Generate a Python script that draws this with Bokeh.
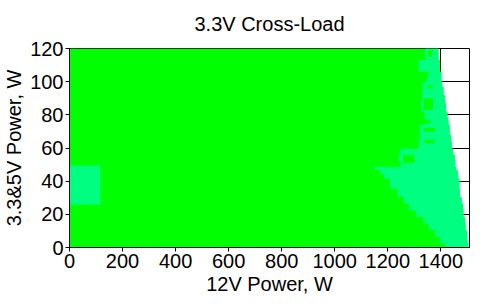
from bokeh.plotting import figure
from bokeh.models import Range1d, FixedTicker, Title
from bokeh.embed import file_html
from bokeh.resources import INLINE

# ---- data (3.3&5V load rows, 12V power limits) ----
row_lo = [0, 2.5, 6.5, 10.5, 14.5, 18.5, 22.5, 26.5, 30.5, 35.5, 41.5, 44.5,
          46.8, 48.6, 52, 56, 59.5, 64, 68, 74, 78, 82, 87, 92, 97, 100, 106, 113]
row_hi = row_lo[1:] + [120]
max_12v = [1503, 1500, 1498, 1493, 1490, 1485, 1483, 1478, 1472, 1470, 1465, 1463,
           1458, 1454, 1452, 1446, 1441, 1438, 1433, 1428, 1424, 1419, 1415, 1410,
           1404, 1402, 1397, 1391]
dev_from = [1415, 1398, 1378, 1355, 1333, 1305, 1280, 1260, 1237, 1207, 1185, 1170,
            1150, 1248, 1242, 1245, 1316, 1318, 1320, 1340, 1338, 1325, 1328, 1330,
            1332, 1345, 1316, 1341]

# small block of higher deviation at low 12V load
blk_x = [0, 116]
blk_y = [26, 49.5]

# green islands inside the higher-deviation band
isl_x0 = [1352, 1340, 1350, 1335, 1330, 1335, 1335, 1258]
isl_x1 = [1368, 1352, 1368, 1370, 1360, 1378, 1378, 1300]
isl_y0 = [115, 102, 96, 83, 75, 70, 63, 51]
isl_y1 = [119, 106, 98, 90, 77, 72, 65, 56]

x_ticks = [0, 200, 400, 600, 800, 1000, 1200, 1400]
y_ticks = [0, 20, 40, 60, 80, 100, 120]

TITLE = "3.3V Cross-Load"
GREEN = "#00FF00"
LIGHT = "#00FF80"
FONT = "Liberation Sans"

p = figure(width=503, height=306, output_backend="svg", toolbar_location=None,
           x_range=Range1d(0, 1508), y_range=Range1d(0, 120),
           min_border_left=69, min_border_right=34, min_border_top=48,
           min_border_bottom=59)

p.background_fill_color = "white"
p.border_fill_color = "white"
p.outline_line_color = "black"
p.outline_line_alpha = 1.0

# green (within spec) region, as a staircase polygon
gx = [0]
gy = [0]
for lo, hi, mx in zip(row_lo, row_hi, max_12v):
    gx += [mx, mx]
    gy += [lo, hi]
gx += [0]
gy += [120]
p.patch(gx, gy, fill_color=GREEN, line_color=None)

# light green (higher deviation) band
lx = []
ly = []
for lo, hi, st in zip(row_lo, row_hi, dev_from):
    lx += [st, st]
    ly += [lo, hi]
for lo, hi, mx in reversed(list(zip(row_lo, row_hi, max_12v))):
    lx += [mx, mx]
    ly += [hi, lo]
p.patch(lx, ly, fill_color=LIGHT, line_color=None)

p.quad(left=[blk_x[0]], right=[blk_x[1]], bottom=[blk_y[0]], top=[blk_y[1]],
       fill_color=LIGHT, line_color=None)

p.quad(left=isl_x0, right=isl_x1, bottom=isl_y0, top=isl_y1,
       fill_color=GREEN, line_color=None)

for ax, ticks, lab in ((p.xaxis[0], x_ticks, "12V Power, W"),
                       (p.yaxis[0], y_ticks, "3.3&5V Power, W")):
    ax.ticker = FixedTicker(ticks=ticks)
    ax.axis_label = lab
    ax.axis_label_text_font = FONT
    ax.axis_label_text_font_size = "20px"
    ax.axis_label_text_font_style = "normal"
    ax.axis_label_text_color = "black"
    ax.major_label_text_font = FONT
    ax.major_label_text_font_size = "20px"
    ax.major_label_text_color = "black"
    ax.major_tick_in = 0
    ax.major_tick_out = 4
    ax.minor_tick_line_color = None
    ax.axis_line_color = "black"
    ax.major_tick_line_color = "black"
    ax.major_label_standoff = 2
    ax.axis_label_standoff = 2

for g in (p.xgrid[0], p.ygrid[0]):
    g.grid_line_color = "black"
    g.grid_line_alpha = 1.0

# empty spacer next to the plot area, then the chart title above it
p.add_layout(Title(text=" ", text_font=FONT, text_font_size="11px", standoff=0), "above")
p.add_layout(Title(text=TITLE, align="center", text_font=FONT, text_font_size="20px",
                   text_font_style="normal", text_color="black", standoff=0), "above")

open("out.html", "w").write(file_html(p, INLINE))
